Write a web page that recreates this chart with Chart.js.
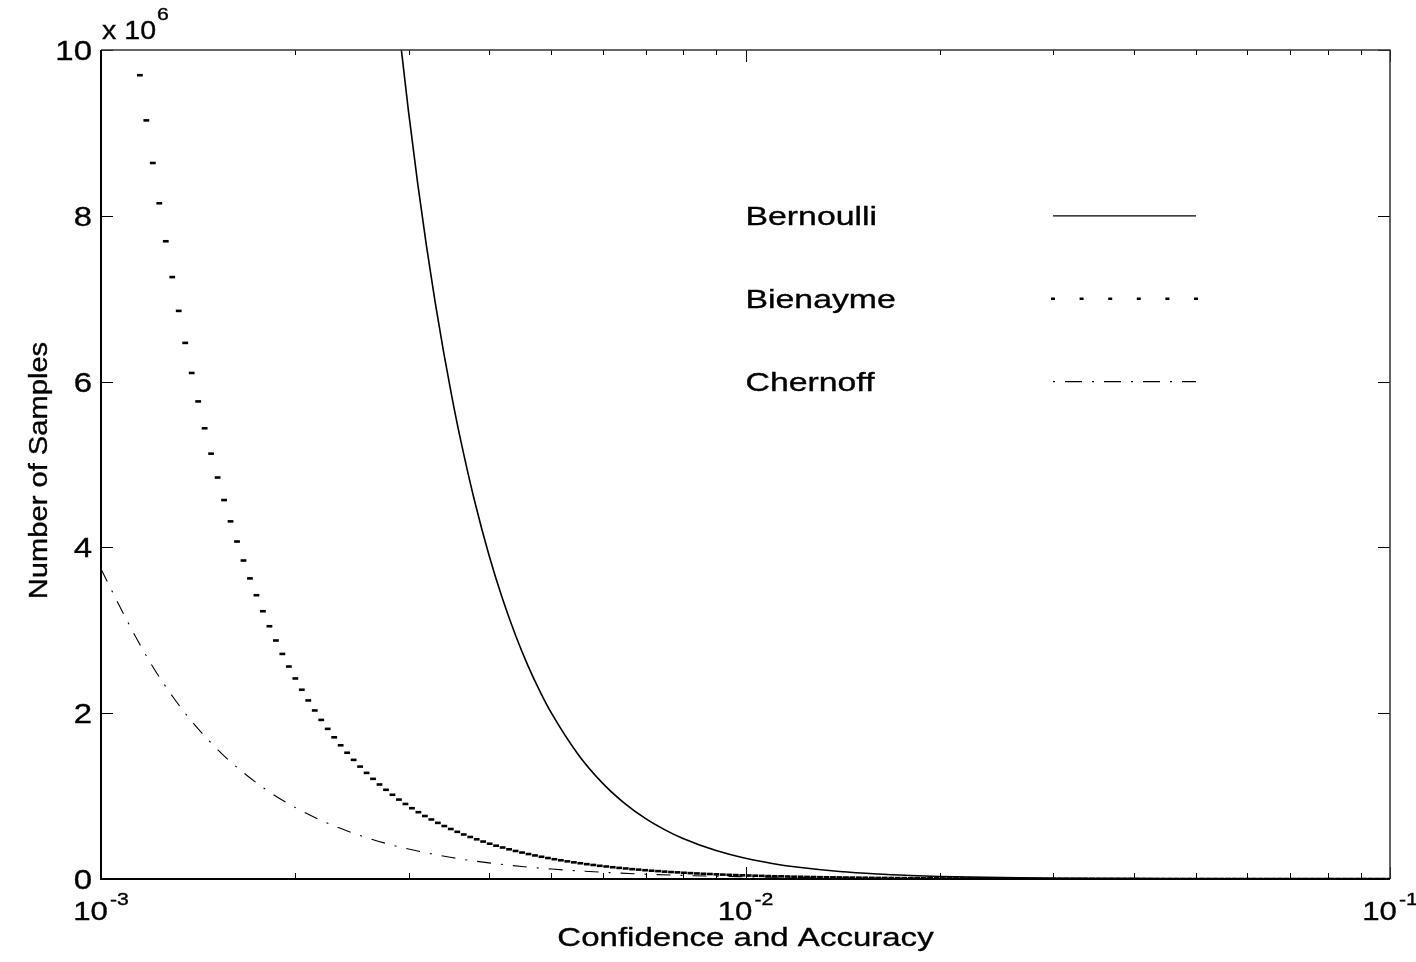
<!DOCTYPE html>
<html>
<head>
<meta charset="UTF-8"/>
<title>Number of Samples vs Confidence and Accuracy</title>
<script src="https://cdn.jsdelivr.net/npm/chart.js"></script>
<style>
  html, body { margin: 0; padding: 0; background: #fff; overflow: hidden; }
  #wrap { width: 1416px; height: 962px; position: relative; }
</style>
</head>
<body>
<div id="wrap"><canvas id="chart"></canvas></div>
<script>
// values are in millions of samples (axis multiplier x 10^6)
const bernX = [0.0029, 0.0030, 0.0031, 0.0032, 0.0033, 0.0034, 0.0035, 0.0036, 0.0038, 0.0040,
  0.0042, 0.0044, 0.0046, 0.0048, 0.0050, 0.0055, 0.0060, 0.0065, 0.0070, 0.0075,
  0.0080, 0.0090, 0.010, 0.011, 0.012, 0.014, 0.016, 0.018, 0.020, 0.025,
  0.030, 0.040, 0.050, 0.070, 0.100];
const bernY = [10.25, 9.259, 8.392, 7.629, 6.957, 6.361, 5.831, 5.358, 4.556, 3.906,
  3.374, 2.935, 2.568, 2.261, 2.000, 1.503, 1.157, 0.910, 0.729, 0.593,
  0.488, 0.343, 0.250, 0.188, 0.145, 0.091, 0.061, 0.043, 0.031, 0.016,
  0.009, 0.004, 0.002, 0.001, 0.000];

const bienX = [0.0011489, 0.0011758, 0.0012034, 0.0012315, 0.0012604, 0.0012899, 0.0013201, 0.0013510, 0.0013826, 0.0014150,
  0.0014481, 0.0014820, 0.0015168, 0.0015522, 0.0015886, 0.0016258, 0.0016638, 0.0017028, 0.0017426, 0.0017834,
  0.0018252, 0.0018679, 0.0019116, 0.0019564, 0.0020022, 0.0020491, 0.0020970, 0.0021461, 0.0021964, 0.0022478,
  0.0023004, 0.0023543, 0.0024094, 0.0024658, 0.0025235, 0.0025826, 0.0026431, 0.0027050, 0.0027683, 0.0028331,
  0.0028994, 0.0029673, 0.0030368, 0.0031079, 0.0031806, 0.0032551, 0.0033313, 0.0034093, 0.0034891, 0.0035708,
  0.0036544, 0.0037399, 0.0038275, 0.0039171, 0.0040088, 0.0041027, 0.0041987, 0.0042970, 0.0043976, 0.0045006,
  0.0046059, 0.0047138, 0.0048241, 0.0049370, 0.0050526, 0.0051709, 0.0052920, 0.0054159, 0.0055427, 0.0056724,
  0.0058052, 0.0059411, 0.0060802, 0.0062226, 0.0063683, 0.0065173, 0.0066699, 0.0068261, 0.0069859, 0.0071494,
  0.0073168, 0.0074881, 0.0076634, 0.0078428, 0.0080264, 0.0082143, 0.0084067, 0.0086035, 0.0088049, 0.0090110,
  0.0092220, 0.0094379, 0.0096588, 0.0098850, 0.010116, 0.010353, 0.010596, 0.010844, 0.011098, 0.011357,
  0.011623, 0.011895, 0.012174, 0.012459, 0.012751, 0.013049, 0.013355, 0.013667, 0.013987, 0.014315,
  0.014650, 0.014993, 0.015344, 0.015703, 0.016071, 0.016447, 0.016832, 0.017226, 0.017629, 0.018042,
  0.018464, 0.018897, 0.019339, 0.019792, 0.020255, 0.020729, 0.021215, 0.021711, 0.022219, 0.022740,
  0.023272, 0.023817, 0.024374, 0.024945, 0.025529, 0.026127, 0.026738, 0.027364, 0.028005, 0.028661,
  0.029332, 0.030018, 0.030721, 0.031440, 0.032176, 0.032930, 0.033701, 0.034490, 0.035297, 0.036124,
  0.036969, 0.037835, 0.038721, 0.039627, 0.040555, 0.041504, 0.042476, 0.043470, 0.044488, 0.045529,
  0.046595, 0.047686, 0.048803, 0.049945, 0.051114, 0.052311, 0.053536, 0.054789, 0.056072, 0.057385,
  0.058728, 0.060103, 0.061510, 0.062950, 0.064424, 0.065932, 0.067476, 0.069055, 0.070672, 0.072327,
  0.074020, 0.075753, 0.077526, 0.079341, 0.081198, 0.083099, 0.085045, 0.087036, 0.089073, 0.091159,
  0.093293, 0.095477, 0.097713, 0.10000];
const bienY = [9.696, 9.151, 8.637, 8.151, 7.693, 7.261, 6.853, 6.467, 6.104, 5.761,
  5.437, 5.131, 4.843, 4.571, 4.314, 4.071, 3.842, 3.626, 3.423, 3.230,
  3.049, 2.877, 2.715, 2.563, 2.419, 2.283, 2.154, 2.033, 1.919, 1.811,
  1.709, 1.613, 1.523, 1.437, 1.356, 1.280, 1.208, 1.140, 1.076, 1.016,
  0.958, 0.905, 0.854, 0.806, 0.760, 0.718, 0.677, 0.639, 0.603, 0.569,
  0.537, 0.507, 0.479, 0.452, 0.426, 0.402, 0.380, 0.358, 0.338, 0.319,
  0.301, 0.284, 0.268, 0.253, 0.239, 0.226, 0.213, 0.201, 0.190, 0.179,
  0.169, 0.159, 0.151, 0.142, 0.134, 0.127, 0.119, 0.113, 0.106, 0.100,
  0.095, 0.089, 0.084, 0.080, 0.075, 0.071, 0.067, 0.063, 0.060, 0.056,
  0.053, 0.050, 0.047, 0.045, 0.042, 0.040, 0.038, 0.035, 0.033, 0.032,
  0.030, 0.028, 0.027, 0.025, 0.024, 0.022, 0.021, 0.020, 0.019, 0.018,
  0.017, 0.016, 0.015, 0.014, 0.013, 0.013, 0.012, 0.011, 0.011, 0.010,
  0.0094, 0.0088, 0.0083, 0.0079, 0.0074, 0.0070, 0.0066, 0.0062, 0.0059, 0.0056,
  0.0053, 0.0050, 0.0047, 0.0044, 0.0042, 0.0039, 0.0037, 0.0035, 0.0033, 0.0031,
  0.0029, 0.0028, 0.0026, 0.0025, 0.0023, 0.0022, 0.0021, 0.0020, 0.0019, 0.0017,
  0.0017, 0.0016, 0.0015, 0.0014, 0.0013, 0.0012, 0.0012, 0.0011, 0.0010, 0.0010,
  0.0009, 0.0009, 0.0008, 0.0008, 0.0007, 0.0007, 0.0007, 0.0006, 0.0006, 0.0006,
  0.0005, 0.0005, 0.0005, 0.0004, 0.0004, 0.0004, 0.0004, 0.0003, 0.0003, 0.0003,
  0.0003, 0.0003, 0.0003, 0.0002, 0.0002, 0.0002, 0.0002, 0.0002, 0.0002, 0.0002,
  0.0002, 0.0002, 0.0001, 0.0001];

const chernX = [0.0010, 0.0011, 0.0012, 0.0013, 0.0014, 0.0015, 0.0016, 0.0018, 0.0020, 0.0022,
  0.0024, 0.0026, 0.0028, 0.0030, 0.0035, 0.0040, 0.0045, 0.0050, 0.0060, 0.0070,
  0.0080, 0.0090, 0.010, 0.012, 0.014, 0.016, 0.020, 0.025, 0.030, 0.040,
  0.050, 0.070, 0.100];
const chernY = [3.74, 3.102, 2.576, 2.171, 1.853, 1.599, 1.393, 1.082, 0.864, 0.704,
  0.584, 0.492, 0.419, 0.361, 0.259, 0.194, 0.151, 0.120, 0.081, 0.058,
  0.043, 0.033, 0.027, 0.018, 0.013, 0.009, 0.006, 0.004, 0.002, 0.001,
  0.001, 0.000, 0.000];

const seriesNames = ['Bernoulli', 'Bienayme', 'Chernoff'];
const yTicks = [0, 2, 4, 6, 8, 10];
const xMajorTicks = [0.001, 0.01, 0.1];
const xTickExponents = ['-3', '-2', '-1'];
const xMinorTicks = [0.002, 0.003, 0.004, 0.005, 0.006, 0.007, 0.008, 0.009,
  0.02, 0.03, 0.04, 0.05, 0.06, 0.07, 0.08, 0.09];

const FONT = '"Liberation Sans", Arial, Helvetica, sans-serif';
const SX = 1.27; // the original lettering is wide

const toPoints = (xs, ys) => xs.map((v, i) => ({ x: v, y: ys[i] }));

function setFont(ctx, size) { ctx.font = size + 'px ' + FONT; }
function textW(ctx, str, size, sx) { setFont(ctx, size); return ctx.measureText(str).width * sx; }
function drawText(ctx, str, x, y, size, sx, align, rot) {
  ctx.save();
  ctx.translate(x, y);
  if (rot) ctx.rotate(rot);
  ctx.scale(sx, 1);
  setFont(ctx, size);
  ctx.textAlign = align;
  ctx.textBaseline = 'alphabetic';
  ctx.fillStyle = '#000';
  ctx.strokeStyle = '#000';
  ctx.lineWidth = 0.35;
  ctx.fillText(str, 0, 0);
  ctx.strokeText(str, 0, 0);
  ctx.restore();
}

const axesPlugin = {
  id: 'matlabAxes',
  afterDraw(chart) {
    const { ctx, chartArea: a, scales: { x, y } } = chart;
    ctx.save();
    ctx.strokeStyle = '#000';
    ctx.lineWidth = 1;

    // ticks, drawn inward
    ctx.beginPath();
    yTicks.forEach(v => {
      const py = Math.round(y.getPixelForValue(v)) + 0.5;
      ctx.moveTo(a.left, py); ctx.lineTo(a.left + 12, py);
      ctx.moveTo(a.right, py); ctx.lineTo(a.right - 12, py);
    });
    xMajorTicks.forEach(v => {
      const px = Math.round(x.getPixelForValue(v)) + 0.5;
      ctx.moveTo(px, a.bottom); ctx.lineTo(px, a.bottom - 12);
      ctx.moveTo(px, a.top); ctx.lineTo(px, a.top + 12);
    });
    xMinorTicks.forEach(v => {
      const px = Math.round(x.getPixelForValue(v)) + 0.5;
      ctx.moveTo(px, a.bottom); ctx.lineTo(px, a.bottom - 6);
      ctx.moveTo(px, a.top); ctx.lineTo(px, a.top + 5);
    });
    ctx.stroke();

    // box
    ctx.strokeStyle = '#333';
    ctx.lineWidth = 1.5;
    ctx.beginPath();
    ctx.moveTo(a.left, a.top); ctx.lineTo(a.right, a.top); ctx.lineTo(a.right, a.bottom);
    ctx.stroke();
    ctx.strokeStyle = '#000';
    ctx.lineWidth = 2;
    ctx.beginPath();
    ctx.moveTo(a.left, a.top); ctx.lineTo(a.left, a.bottom); ctx.lineTo(a.right, a.bottom);
    ctx.stroke();

    // y tick labels
    yTicks.forEach(v => {
      drawText(ctx, String(v), a.left - 9, y.getPixelForValue(v) + 10, 27, 1.22, 'right');
    });
    // multiplier
    drawText(ctx, 'x 10', a.left + 1, a.top - 11, 26, 1.1, 'left');
    const wm = textW(ctx, 'x 10', 26, 1.1);
    drawText(ctx, '6', a.left + 2 + wm, a.top - 30, 17, 1.25, 'left');

    // x tick labels 10^n
    xMajorTicks.forEach((v, i) => {
      const px = x.getPixelForValue(v);
      const wb = textW(ctx, '10', 26, 1.2);
      const we = textW(ctx, xTickExponents[i], 17, 1.25);
      const start = px - (wb + we + 2) / 2;
      drawText(ctx, '10', start, a.bottom + 41, 26, 1.2, 'left');
      drawText(ctx, xTickExponents[i], start + wb + 2, a.bottom + 26, 17, 1.25, 'left');
    });

    // axis titles
    drawText(ctx, 'Confidence and Accuracy', (a.left + a.right) / 2, a.bottom + 67, 26, SX, 'center');
    drawText(ctx, 'Number of Samples', 47, (a.top + a.bottom) / 2 + 6, 26, 1.12, 'center', -Math.PI / 2);

    // legend placed in data coordinates like the original text() calls
    const tx = x.getPixelForValue(0.01);
    const l0 = x.getPixelForValue(0.03), l1 = x.getPixelForValue(0.05);
    const rows = [8, 7, 6];
    rows.forEach((v, i) => {
      drawText(ctx, seriesNames[i], tx, y.getPixelForValue(v) + 9.5, 26, 1.3, 'left');
    });
    let py = y.getPixelForValue(rows[0]);
    ctx.lineWidth = 1.2; ctx.strokeStyle = '#000';
    ctx.beginPath(); ctx.moveTo(l0, py); ctx.lineTo(l1, py); ctx.stroke();

    py = y.getPixelForValue(rows[1]);
    ctx.lineWidth = 2.4;
    ctx.beginPath();
    for (let j = 0; j < 6; j++) {
      const px = l0 + (l1 - l0) * j / 5;
      ctx.moveTo(px - 2, py); ctx.lineTo(px + 2, py);
    }
    ctx.stroke();

    py = y.getPixelForValue(rows[2]);
    ctx.lineWidth = 1.1;
    ctx.setLineDash([2, 10, 17, 10]);
    ctx.beginPath(); ctx.moveTo(l0, py); ctx.lineTo(l1, py); ctx.stroke();
    ctx.setLineDash([]);
    ctx.restore();
  }
};

new Chart(document.getElementById('chart'), {
  type: 'line',
  data: {
    datasets: [
      {
        label: seriesNames[0],
        data: toPoints(bernX, bernY),
        borderColor: '#000',
        borderWidth: 1.6,
        pointRadius: 0,
        cubicInterpolationMode: 'monotone',
        fill: false
      },
      {
        label: seriesNames[1],
        data: toPoints(bienX, bienY),
        showLine: false,
        pointStyle: 'line',
        pointRadius: 2.9,
        pointBorderWidth: 2.6,
        pointBorderColor: '#000',
        borderColor: '#000',
        fill: false
      },
      {
        label: seriesNames[2],
        data: toPoints(chernX, chernY),
        borderColor: '#000',
        borderWidth: 1.1,
        borderDash: [14, 10, 2, 10],
        pointRadius: 0,
        cubicInterpolationMode: 'monotone',
        fill: false
      }
    ]
  },
  options: {
    responsive: true,
    maintainAspectRatio: false,
    animation: false,
    events: [],
    layout: { padding: { left: 101, right: 26, top: 50, bottom: 83 } },
    plugins: { legend: { display: false }, tooltip: { enabled: false } },
    scales: {
      x: { type: 'logarithmic', min: 0.001, max: 0.1, display: false },
      y: { type: 'linear', min: 0, max: 10, display: false }
    }
  },
  plugins: [axesPlugin]
});
</script>
</body>
</html>
